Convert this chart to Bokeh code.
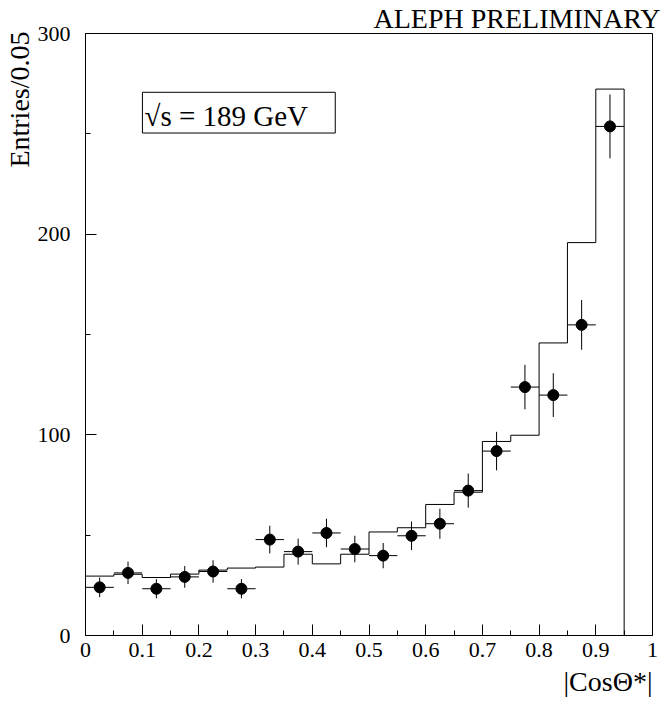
import math
from bokeh.plotting import figure
from bokeh.models import Range1d, FixedTicker, Label, BoxAnnotation, Title
from bokeh.embed import file_html
from bokeh.resources import INLINE

# ---- data ----
bin_centers = [0.025, 0.075, 0.125, 0.175, 0.225, 0.275, 0.325, 0.375, 0.425, 0.475,
               0.525, 0.575, 0.625, 0.675, 0.725, 0.775, 0.825, 0.875, 0.925]
bin_half_width = 0.025
mc_values = [29.6, 30.5, 28.9, 30.6, 32.6, 33.6, 34.1, 40.5, 35.7, 40.5,
             51.6, 53.7, 65.3, 71.4, 96.7, 99.8, 145.8, 195.8, 272.3]
data_values = [24.0, 31.2, 23.3, 29.2, 31.9, 23.3, 47.8, 41.8, 51.1, 43.1,
               39.8, 49.7, 55.7, 72.2, 91.9, 123.8, 119.8, 154.8, 253.7]
data_errors = [4.9, 5.6, 4.8, 5.4, 5.6, 4.8, 6.9, 6.5, 7.1, 6.6,
               6.3, 7.1, 7.5, 8.5, 9.6, 11.1, 10.9, 12.4, 15.9]

x_tick_values = [0, 0.1, 0.2, 0.3, 0.4, 0.5, 0.6, 0.7, 0.8, 0.9, 1.0]
x_tick_labels = ["0", "0.1", "0.2", "0.3", "0.4", "0.5", "0.6", "0.7", "0.8", "0.9", "1"]
x_minor_ticks = [0.05, 0.15, 0.25, 0.35, 0.45, 0.55, 0.65, 0.75, 0.85, 0.95]
y_tick_values = [0, 100, 200, 300]
y_tick_labels = ["0", "100", "200", "300"]
y_minor_ticks = [50, 150, 250]

FONT = "Liberation Serif"

p = figure(width=661, height=703, output_backend="svg", toolbar_location=None,
           x_range=Range1d(0, 1), y_range=Range1d(0, 300),
           min_border_left=85, min_border_right=9, min_border_top=31, min_border_bottom=68)
p.xgrid.visible = False
p.ygrid.visible = False
p.outline_line_color = "black"
p.outline_line_width = 1
p.background_fill_color = "white"
p.border_fill_color = "white"

for ax in (p.xaxis[0], p.yaxis[0]):
    ax.axis_line_color = "black"
    ax.major_tick_line_color = "black"
    ax.minor_tick_line_color = "black"
    ax.major_tick_out = 0
    ax.minor_tick_out = 0
    ax.major_tick_in = 11
    ax.minor_tick_in = 5
    ax.major_label_text_font = FONT
    ax.major_label_text_font_size = "22px"
    ax.major_label_text_color = "black"

p.xaxis[0].ticker = FixedTicker(ticks=x_tick_values, minor_ticks=x_minor_ticks)
p.xaxis[0].major_label_overrides = {v: l for v, l in zip(x_tick_values, x_tick_labels)}
p.xaxis[0].major_label_standoff = 7
p.yaxis[0].ticker = FixedTicker(ticks=y_tick_values, minor_ticks=y_minor_ticks)
p.yaxis[0].major_label_overrides = {v: l for v, l in zip(y_tick_values, y_tick_labels)}
p.yaxis[0].major_label_standoff = 15

# MC histogram (step outline)
step_x = [c - bin_half_width for c in bin_centers] + [bin_centers[-1] + bin_half_width]
step_y = list(mc_values) + [0]
p.step(x=step_x, y=step_y, mode="after", line_color="black", line_width=1)

# data points with error bars
p.segment(x0=[c - bin_half_width for c in bin_centers], y0=data_values,
          x1=[c + bin_half_width for c in bin_centers], y1=data_values,
          line_color="black", line_width=1)
p.segment(x0=bin_centers, y0=[v - e for v, e in zip(data_values, data_errors)],
          x1=bin_centers, y1=[v + e for v, e in zip(data_values, data_errors)],
          line_color="black", line_width=1)
p.scatter(x=bin_centers, y=data_values, size=11, marker="circle",
          fill_color="black", line_color="black")

# energy box
box = BoxAnnotation(left=0.1004, right=0.4405, bottom=250.4, top=270.7,
                    fill_color="white", fill_alpha=1.0, line_color="black", line_width=1,
                    line_alpha=1.0)
p.add_layout(box)
p.add_layout(Label(x=0.1040, y=258.8, text="√s = 189 GeV", text_font=FONT,
                   text_font_size="29px", text_color="black", text_baseline="alphabetic"))

title_props = Title.properties()

def style_title(t, size, standoff, offset):
    t.text_font = FONT
    t.text_font_size = size
    t.text_font_style = "normal"
    t.text_color = "black"
    t.offset = offset
    if "standoff" in title_props:
        t.standoff = standoff

# top title
p.title.text = "ALEPH PRELIMINARY"
p.title.align = "right"
style_title(p.title, "28px", 0, -8)

# y axis label (outside the axis, top-aligned)
ylab = Title(text="Entries/0.05", align="right")
style_title(ylab, "28px", 0, -2)
p.add_layout(ylab, "left")

# x axis label (below the axis, right-aligned)
xlab = Title(text="|CosΘ*|", align="right")
style_title(xlab, "28px", 8, 0)
p.add_layout(xlab, "below")

open("out.html", "w").write(file_html(p, INLINE))
